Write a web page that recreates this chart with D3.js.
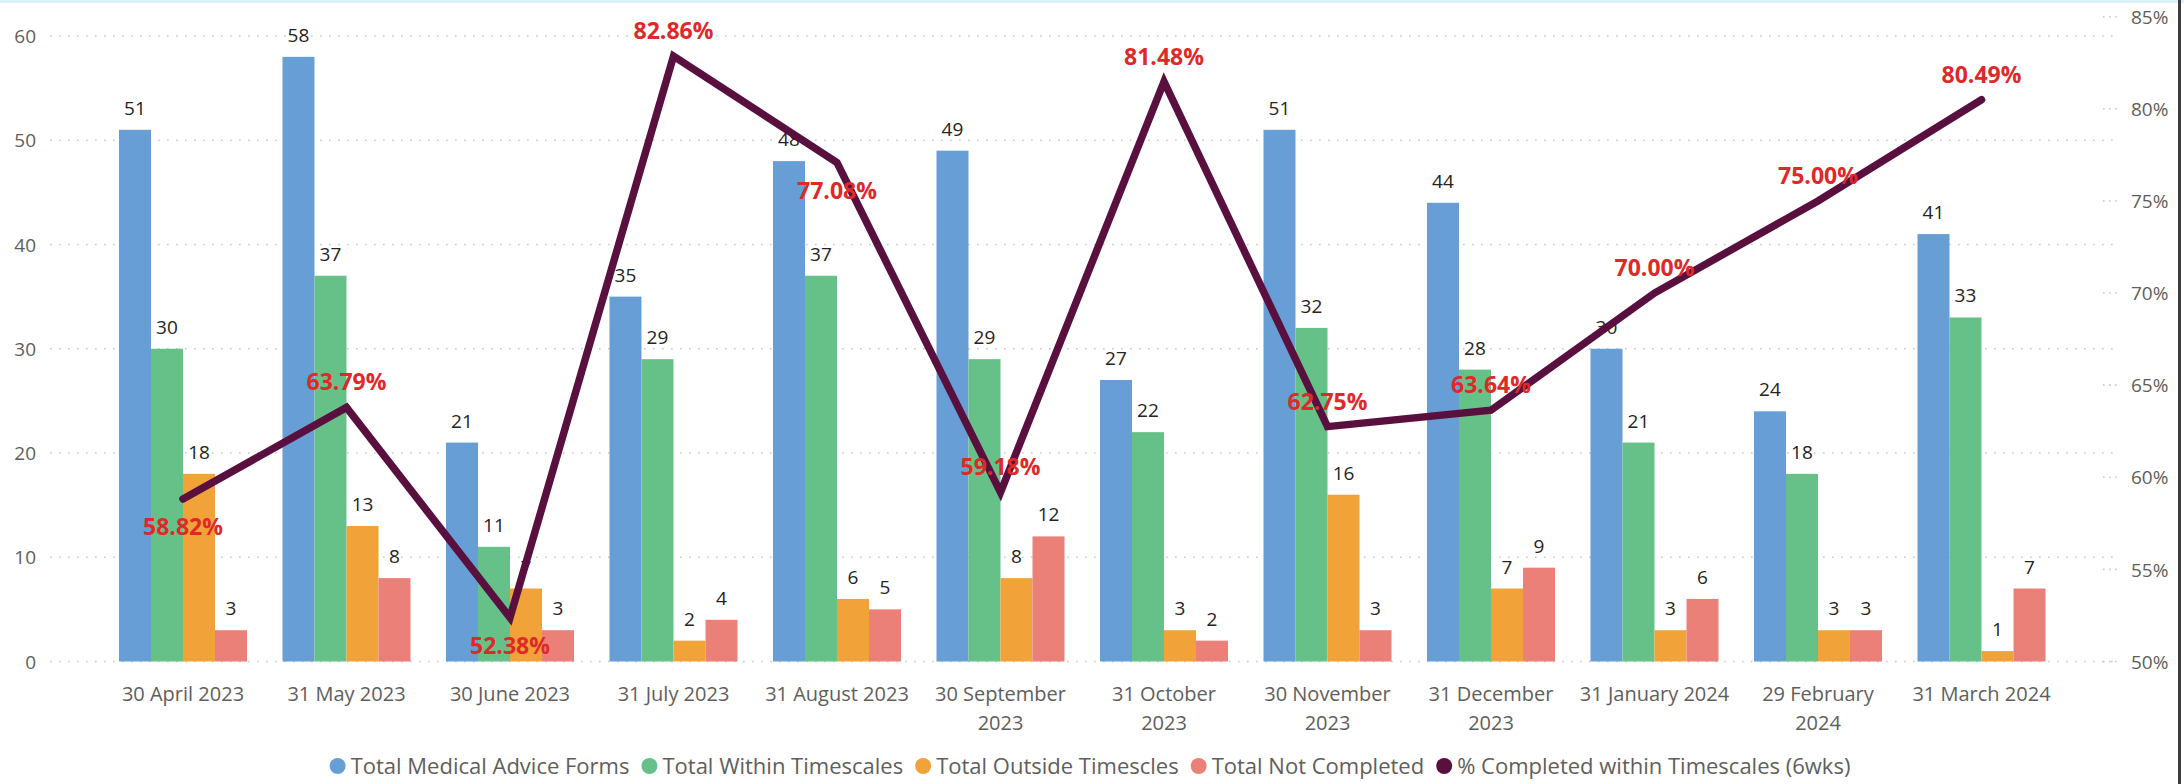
<!DOCTYPE html>
<html>
<head>
<meta charset="utf-8">
<script src="https://cdn.jsdelivr.net/npm/d3@7"></script>
<style>
  html, body { margin: 0; padding: 0; background: #fff; }
  svg { display: block; }
  text { font-family: "Segoe UI", "Open Sans", sans-serif; }
</style>
</head>
<body>
<svg id="chart" width="2184" height="784"></svg>
<script>
// ---- data ----
const categories = ["30 April 2023", "31 May 2023", "30 June 2023", "31 July 2023", "31 August 2023",
  "30 September\n2023", "31 October\n2023", "30 November\n2023", "31 December\n2023",
  "31 January 2024", "29 February\n2024", "31 March 2024"];
const seriesNames = ["Total Medical Advice Forms", "Total Within Timescales", "Total Outside Timescles", "Total Not Completed"];
const totalForms = [51, 58, 21, 35, 48, 49, 27, 51, 44, 30, 24, 41];
const withinTimescales = [30, 37, 11, 29, 37, 29, 22, 32, 28, 21, 18, 33];
const outsideTimescales = [18, 13, 7, 2, 6, 8, 3, 16, 7, 3, 3, 1];
const notCompleted = [3, 8, 3, 4, 5, 12, 2, 3, 9, 6, 3, 7];
const lineName = "% Completed within Timescales (6wks)";
const pctCompleted = [58.82, 63.79, 52.38, 82.86, 77.08, 59.18, 81.48, 62.75, 63.64, 70.00, 75.00, 80.49];
const pctLabelPlace = ["below", "above", "below", "above", "below", "above", "above", "above", "above", "above", "above", "above"];
const leftTicks = [0, 10, 20, 30, 40, 50, 60];
const rightTicks = [50, 55, 60, 65, 70, 75, 80, 85];

const barColors = ["#689ed6", "#66c189", "#f1a339", "#ea8078"];
const lineColor = "#5a103e";
const pctColor = "#e12828";
const axisText = "#605e5c";
const labelText = "#252423";

const svg = d3.select("#chart");

// borders
svg.append("rect").attr("x", 0).attr("y", 0).attr("width", 2184).attr("height", 3).attr("fill", "#dcf1fa");
svg.append("rect").attr("x", 2178).attr("y", 0).attr("width", 3).attr("height", 784).attr("fill", "#3c3c3c");

// scales
const plotLeft = 50, plotRight = 2113;
const y = d3.scaleLinear().domain([0, 60]).range([661.5, 36]);
const yR = d3.scaleLinear().domain([50, 85]).range([661.5, 16.7]);
const step = 163.5;
const x0 = 183 - step / 2;
const x = d3.scaleBand().domain(d3.range(categories.length))
  .range([x0, x0 + step * categories.length]).paddingInner(0.217).paddingOuter(0.1085);
const xs = d3.scaleBand().domain(d3.range(4)).range([0, x.bandwidth()]);

// gridlines
svg.append("g").selectAll("line").data(leftTicks).join("line")
  .attr("x1", plotLeft).attr("x2", plotRight)
  .attr("y1", d => y(d)).attr("y2", d => y(d))
  .attr("stroke", "#c9c9c9").attr("stroke-width", 1.6).attr("stroke-dasharray", "1.6,7.4");

// left axis
const leftAxis = d3.axisLeft(y).tickValues(leftTicks).tickSize(0).tickPadding(0);
const gL = svg.append("g").attr("transform", "translate(36,0)").call(leftAxis);
gL.select(".domain").remove();
gL.selectAll("text").attr("fill", axisText).style("font-size", "19px").attr("dy", "0.35em")
  .style("font-family", "\"Segoe UI\", \"Open Sans\", sans-serif");

// right axis
const rightAxis = d3.axisRight(yR).tickValues(rightTicks).tickSize(0).tickPadding(0).tickFormat(d => d + "%");
const gR = svg.append("g").attr("transform", "translate(2131,0)").call(rightAxis);
gR.select(".domain").remove();
gR.selectAll("text").attr("fill", axisText).style("font-size", "19px").attr("dy", "0.35em")
  .style("font-family", "\"Segoe UI\", \"Open Sans\", sans-serif");
svg.append("g").selectAll("line").data(rightTicks).join("line")
  .attr("x1", 2103).attr("x2", 2117)
  .attr("y1", d => yR(d)).attr("y2", d => yR(d))
  .attr("stroke", "#c9c9c9").attr("stroke-width", 1.6).attr("stroke-dasharray", "1.6,4.4");

// bars
const seriesData = [totalForms, withinTimescales, outsideTimescales, notCompleted];
const groups = svg.append("g").selectAll("g").data(categories).join("g")
  .attr("transform", (d, i) => `translate(${x(i)},0)`);
groups.each(function(c, i) {
  const g = d3.select(this);
  seriesData.forEach((arr, s) => {
    g.append("rect")
      .attr("x", xs(s)).attr("width", xs.bandwidth())
      .attr("y", y(arr[i])).attr("height", y(0) - y(arr[i]))
      .attr("fill", barColors[s]);
  });
});
// bar labels
groups.each(function(c, i) {
  const g = d3.select(this);
  seriesData.forEach((arr, s) => {
    g.append("text")
      .attr("x", xs(s) + xs.bandwidth() / 2).attr("y", y(arr[i]) - 15)
      .attr("text-anchor", "middle").attr("fill", labelText).style("font-size", "19px")
      .text(arr[i]);
  });
});

// x axis labels
const xl = svg.append("g");
categories.forEach((c, i) => {
  const lines = c.split("\n");
  const t = xl.append("text").attr("text-anchor", "middle").attr("fill", axisText).style("font-size", "20px");
  lines.forEach((ln, k) => {
    t.append("tspan").attr("x", x(i) + x.bandwidth() / 2).attr("y", 701 + k * 29).text(ln);
  });
});

// line
const line = d3.line().x((d, i) => x(i) + x.bandwidth() / 2).y(d => yR(d));
svg.append("path").datum(pctCompleted).attr("d", line)
  .attr("fill", "none").attr("stroke", lineColor).attr("stroke-width", 7.5)
  .attr("stroke-linejoin", "miter").attr("stroke-linecap", "round");

// pct labels
svg.append("g").selectAll("text").data(pctCompleted).join("text")
  .attr("x", (d, i) => x(i) + x.bandwidth() / 2)
  .attr("y", (d, i) => pctLabelPlace[i] === "above" ? yR(d) - 17 : yR(d) + 36)
  .attr("text-anchor", "middle").attr("fill", pctColor)
  .style("font-size", "23px").style("font-weight", "bold")
  .text(d => d.toFixed(2) + "%");

// legend
const legendItems = seriesNames.map((n, i) => ({ name: n, color: barColors[i] }))
  .concat([{ name: lineName, color: lineColor }]);
const lg = svg.append("g");
let cx = 0;
legendItems.forEach(it => {
  const gi = lg.append("g").attr("transform", `translate(${cx},0)`);
  gi.append("circle").attr("cx", 0).attr("cy", 0).attr("r", 8).attr("fill", it.color);
  const t = gi.append("text").attr("x", 13).attr("y", 0).attr("dy", "0.35em")
    .attr("fill", axisText).style("font-size", "22px").text(it.name);
  const w = t.node().getComputedTextLength();
  cx += 13 + w + 20;
});
const totalW = cx - 20 + 8;
lg.attr("transform", `translate(${1090 - totalW / 2 + 8},766)`);
</script>
</body>
</html>
